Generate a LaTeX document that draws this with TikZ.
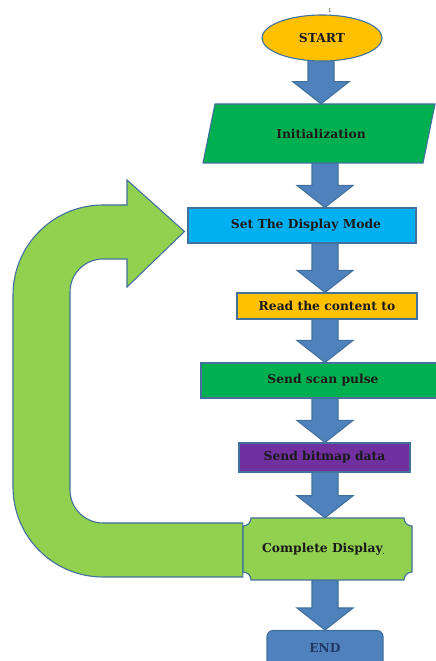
\documentclass[tikz,border=0pt]{standalone}
\usepackage{fontspec}
\setmainfont{DejaVu Serif}
\usetikzlibrary{shapes.geometric,backgrounds,calc}
\definecolor{edge}{HTML}{41719C}
\definecolor{gold}{HTML}{FFC000}
\definecolor{grn}{HTML}{00B050}
\definecolor{sky}{HTML}{00B0F0}
\definecolor{purp}{HTML}{7030A0}
\definecolor{lime}{HTML}{92D050}
\definecolor{arrblue}{HTML}{4F81BD}
\definecolor{txt}{HTML}{1A1A1A}
\definecolor{navy}{HTML}{1F3864}
\newcommand\flowfont{\fontsize{12.3}{14}\selectfont\bfseries}
\tikzset{
  outl/.style={draw=edge, line width=1.1pt},
  proc/.style={outl, inner sep=0pt, font=\flowfont, text=txt},
  bluearrow/.style={outl, fill=arrblue},
}
\newcommand\fatarrow[3]{%
  \path[bluearrow] let \p1=(#1.south), \p2=(#2.north) in
    (#3pt-13pt,\y1+4pt) -- (#3pt+13pt,\y1+4pt) -- (#3pt+13pt,\y2+22pt)
    -- (#3pt+28pt,\y2+22pt) -- (#3pt,\y2) -- (#3pt-28pt,\y2+22pt)
    -- (#3pt-13pt,\y2+22pt) -- cycle;}
\begin{document}
\begin{tikzpicture}[x=1pt,y=1pt]
\clip (0,0) rectangle (436,661);

% START
\node[proc, ellipse, fill=gold, minimum width=120, minimum height=46] (start) at (322,623) {START};
\node[font=\fontsize{5}{6}\selectfont, text=txt, inner sep=0pt] (pg) at (330,650) {1};

% Initialization (parallelogram)
\path[outl, fill=grn] (215,557) -- (435,557) -- (423,498) -- (203,498) -- cycle;
\node[inner sep=0pt, minimum height=59, font=\flowfont, text=txt] (init) at (321,527.5) {Initialization};

% boxes
\node[proc, fill=sky, minimum width=228, minimum height=35] (setmode) at (302,435.5) {\hspace{8pt}Set The Display Mode};
\node[proc, fill=gold, minimum width=180, minimum height=26] (read) at (327,355) {Read the content to};
\node[proc, fill=grn, minimum width=244, minimum height=35] (scan) at (323,280.5) {Send scan pulse};
\node[proc, fill=purp, minimum width=171, minimum height=29] (bitmap) at (324.5,203.5) {Send bitmap data};

% Complete Display (plaque)
\path[outl, fill=lime] (243,135) arc (270:360:8) -- (404,143) arc (180:270:8)
  -- (412,89) arc (90:180:8) -- (251,81) arc (0:90:8) -- cycle;
\node[inner sep=0pt, minimum width=169, minimum height=62, font=\flowfont, text=txt] (complete) at (327.5,112)
  {\hspace{-8pt}Complete Display\raisebox{-2pt}{\fontsize{6}{6}\selectfont.}};

% END
\node[outl, fill=arrblue, rounded corners=6pt, anchor=north, minimum width=116, minimum height=40,
  inner sep=0pt, text depth=6pt, font=\flowfont, text=navy] (end) at (325,31) {END};

\begin{scope}[on background layer]
  \fill[white] (0,0) rectangle (436,661);
  % green loop-back arrow
  \path[outl, fill=lime] ($(setmode.west)+(-3,-6)$) -- (127,481) -- (127,456) -- (103,456)
    arc (90:180:90) -- (13,174) arc (180:270:90) -- (complete.west |- 0,84) -- (complete.west |- 0,138)
    -- (103,138) arc (270:180:33) -- (70,369) arc (180:90:33) -- (127,402) -- (127,374) -- cycle;
  \fatarrow{start}{init}{321}
  \fatarrow{init}{setmode}{325}
  \fatarrow{setmode}{read}{325}
  \fatarrow{read}{scan}{325}
  \fatarrow{scan}{bitmap}{325}
  \fatarrow{bitmap}{complete}{325}
  \fatarrow{complete}{end}{325}
\end{scope}
\end{tikzpicture}
\end{document}
